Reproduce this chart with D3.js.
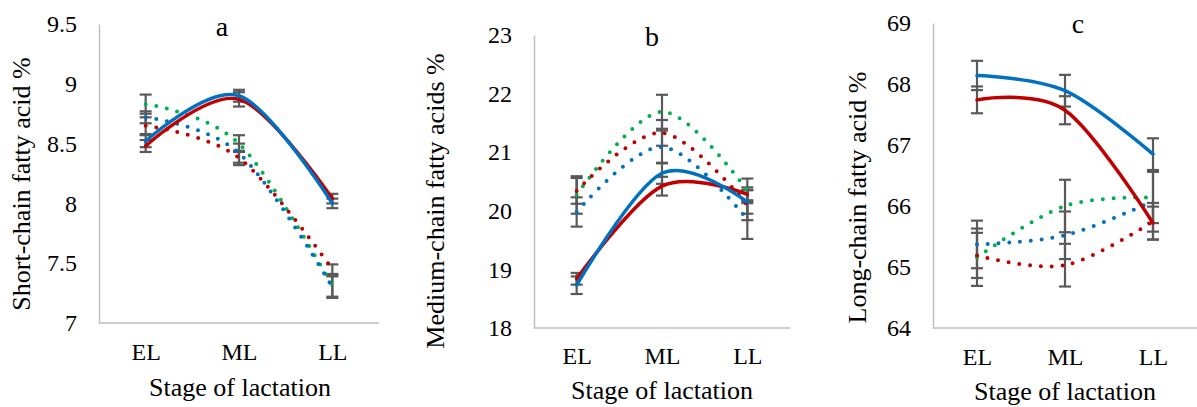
<!DOCTYPE html>
<html>
<head>
<meta charset="utf-8">
<script src="https://cdn.jsdelivr.net/npm/d3@7"></script>
<style>
  html, body { margin: 0; padding: 0; background: #fff; }
  svg { display: block; }
  text { font-family: "Liberation Serif", "Times New Roman", serif; fill: #000; }
</style>
</head>
<body>
<svg id="chart" width="1197" height="407"></svg>
<script>
// ---------------- Data ----------------
const categories = ["EL", "ML", "LL"];

// Panel a – short-chain fatty acids
const scTicks = [7, 7.5, 8, 8.5, 9, 9.5];
const scSolidBlue = [8.52, 8.90, 8.00], scSolidBlueErr = [0.05, 0.05, 0.04];
const scSolidRed  = [8.48, 8.87, 8.04], scSolidRedErr  = [0.05, 0.06, 0.04];
const scDotGreen  = [8.83, 8.50, 7.31], scDotGreenErr  = [0.08, 0.07, 0.09];
const scDotBlue   = [8.72, 8.42, 7.30], scDotBlueErr   = [0.05, 0.08, 0.09];
const scDotRed    = [8.65, 8.38, 7.45], scDotRedErr    = [0.07, 0.06, 0.04];

// Panel b – medium-chain fatty acids
const mcTicks = [18, 19, 20, 21, 22, 23];
const mcSolidBlue = [18.73, 20.64, 20.15], mcSolidBlueErr = [0.15, 0.18, 0.20];
const mcSolidRed  = [18.84, 20.42, 20.28], mcSolidRedErr  = [0.10, 0.16, 0.12];
const mcDotGreen  = [20.27, 21.69, 20.34], mcDotGreenErr  = [0.32, 0.29, 0.21];
const mcDotBlue   = [19.98, 21.09, 19.85], mcDotBlueErr   = [0.25, 0.28, 0.33];
const mcDotRed    = [20.34, 21.33, 20.10], mcDotRedErr    = [0.22, 0.22, 0.26];

// Panel c – long-chain fatty acids
const lcTicks = [64, 65, 66, 67, 68, 69];
const lcSolidBlue = [68.14, 67.89, 66.85], lcSolidBlueErr = [0.24, 0.26, 0.26];
const lcSolidRed  = [67.74, 67.57, 65.72], lcSolidRedErr  = [0.22, 0.23, 0.27];
const lcDotGreen  = [65.16, 66.00, 66.14], lcDotGreenErr  = [0.47, 0.43, 0.42];
const lcDotBlue   = [65.37, 65.52, 66.08], lcDotBlueErr   = [0.39, 0.39, 0.50];
const lcDotRed    = [65.19, 65.03, 65.75], lcDotRedErr    = [0.37, 0.35, 0.30];

const titles = ["a", "b", "c"];
const yTitles = ["Short-chain fatty acid %", "Medium-chain fatty acids %", "Long-chain fatty acid %"];
const xTitle = "Stage of lactation";

// ---------------- Styles ----------------
const BLUE = "#0070C0", RED = "#C00000", GREEN = "#00B050";

function seriesSet(sb, sbe, sr, sre, dg, dge, db, dbe, dr, dre) {
  return [
    { values: dg, err: dge, color: GREEN, dotted: true },
    { values: db, err: dbe, color: BLUE, dotted: true },
    { values: dr, err: dre, color: RED, dotted: true },
    { values: sr, err: sre, color: RED, dotted: false },
    { values: sb, err: sbe, color: BLUE, dotted: false }
  ];
}

const panels = [
  { left: 99, right: 379, top: 24, bottom: 323, ticks: scTicks,
    series: seriesSet(scSolidBlue, scSolidBlueErr, scSolidRed, scSolidRedErr, scDotGreen, scDotGreenErr, scDotBlue, scDotBlueErr, scDotRed, scDotRedErr),
    title: titles[0], titleX: 222, titleY: 36,
    yTitle: yTitles[0], yTitleX: 21, yTitleY: 184,
    xTickY: 360, xTitleX: 240, xTitleY: 396 },
  { left: 534, right: 790, top: 35, bottom: 328, ticks: mcTicks,
    series: seriesSet(mcSolidBlue, mcSolidBlueErr, mcSolidRed, mcSolidRedErr, mcDotGreen, mcDotGreenErr, mcDotBlue, mcDotBlueErr, mcDotRed, mcDotRedErr),
    title: titles[1], titleX: 652, titleY: 46,
    yTitle: yTitles[1], yTitleX: 435.5, yTitleY: 201,
    xTickY: 364, xTitleX: 662, xTitleY: 399 },
  { left: 933, right: 1197, top: 23, bottom: 328, ticks: lcTicks,
    series: seriesSet(lcSolidBlue, lcSolidBlueErr, lcSolidRed, lcSolidRedErr, lcDotGreen, lcDotGreenErr, lcDotBlue, lcDotBlueErr, lcDotRed, lcDotRedErr),
    title: titles[2], titleX: 1078, titleY: 33,
    yTitle: yTitles[2], yTitleX: 857, yTitleY: 197.5,
    xTickY: 365, xTitleX: 1065, xTitleY: 400 }
];

const svg = d3.select("#chart");

panels.forEach(p => {
  const g = svg.append("g");
  const x = d3.scalePoint().domain(categories).range([p.left, p.right]).padding(0.5);
  const y = d3.scaleLinear().domain([p.ticks[0], p.ticks[p.ticks.length - 1]]).range([p.bottom, p.top]);

  // Y axis (no tick marks, gray line)
  const yAxis = d3.axisLeft(y).tickValues(p.ticks).tickSize(0).tickPadding(22).tickFormat(d3.format("~g"));
  const ya = g.append("g").attr("transform", `translate(${p.left},0)`).call(yAxis);
  ya.select(".domain").attr("stroke", "#BFBFBF").attr("stroke-width", 1.5);
  ya.selectAll("text").attr("font-size", 24).attr("font-family", "Liberation Serif").attr("fill", "#000");

  // X axis
  const xAxis = d3.axisBottom(x).tickSize(0).tickPadding(0);
  const xa = g.append("g").attr("transform", `translate(0,${p.bottom})`).call(xAxis);
  xa.select(".domain").attr("stroke", "#BFBFBF").attr("stroke-width", 1.5)
    .attr("d", `M${p.left},0H${p.right}`);
  xa.selectAll("text").attr("font-size", 24).attr("font-family", "Liberation Serif").attr("fill", "#000")
    .attr("dy", null).attr("y", p.xTickY - p.bottom);

  // Error bars
  const eb = g.append("g").attr("stroke", "#595959").attr("stroke-width", 2.2).attr("fill", "none");
  p.series.forEach(s => {
    s.values.forEach((v, i) => {
      const cx = x(categories[i]);
      const y1 = y(v + s.err[i]), y0 = y(v - s.err[i]);
      eb.append("line").attr("x1", cx).attr("x2", cx).attr("y1", y1).attr("y2", y0);
      eb.append("line").attr("x1", cx - 6).attr("x2", cx + 6).attr("y1", y1).attr("y2", y1);
      eb.append("line").attr("x1", cx - 6).attr("x2", cx + 6).attr("y1", y0).attr("y2", y0);
    });
  });

  // Lines
  const line = d3.line()
    .x((d, i) => x(categories[i]))
    .y(d => y(d))
    .curve(d3.curveCardinal.tension(0));
  p.series.forEach(s => {
    const path = g.append("path")
      .attr("d", line(s.values))
      .attr("fill", "none")
      .attr("stroke", s.color)
      .attr("stroke-linecap", "round")
      .attr("stroke-linejoin", "round");
    if (s.dotted) {
      path.attr("stroke-width", 4).attr("stroke-dasharray", "0 10.8");
    } else {
      path.attr("stroke-width", 3.5);
    }
  });

  // Titles
  g.append("text").attr("x", p.titleX).attr("y", p.titleY)
    .attr("text-anchor", "middle").attr("font-size", 28).text(p.title);
  g.append("text")
    .attr("transform", `translate(${p.yTitleX},${p.yTitleY}) rotate(-90)`)
    .attr("text-anchor", "middle").attr("dominant-baseline", "central")
    .attr("font-size", 26).text(p.yTitle);
  g.append("text").attr("x", p.xTitleX).attr("y", p.xTitleY)
    .attr("text-anchor", "middle").attr("font-size", 26).text(xTitle);
});
</script>
</body>
</html>
